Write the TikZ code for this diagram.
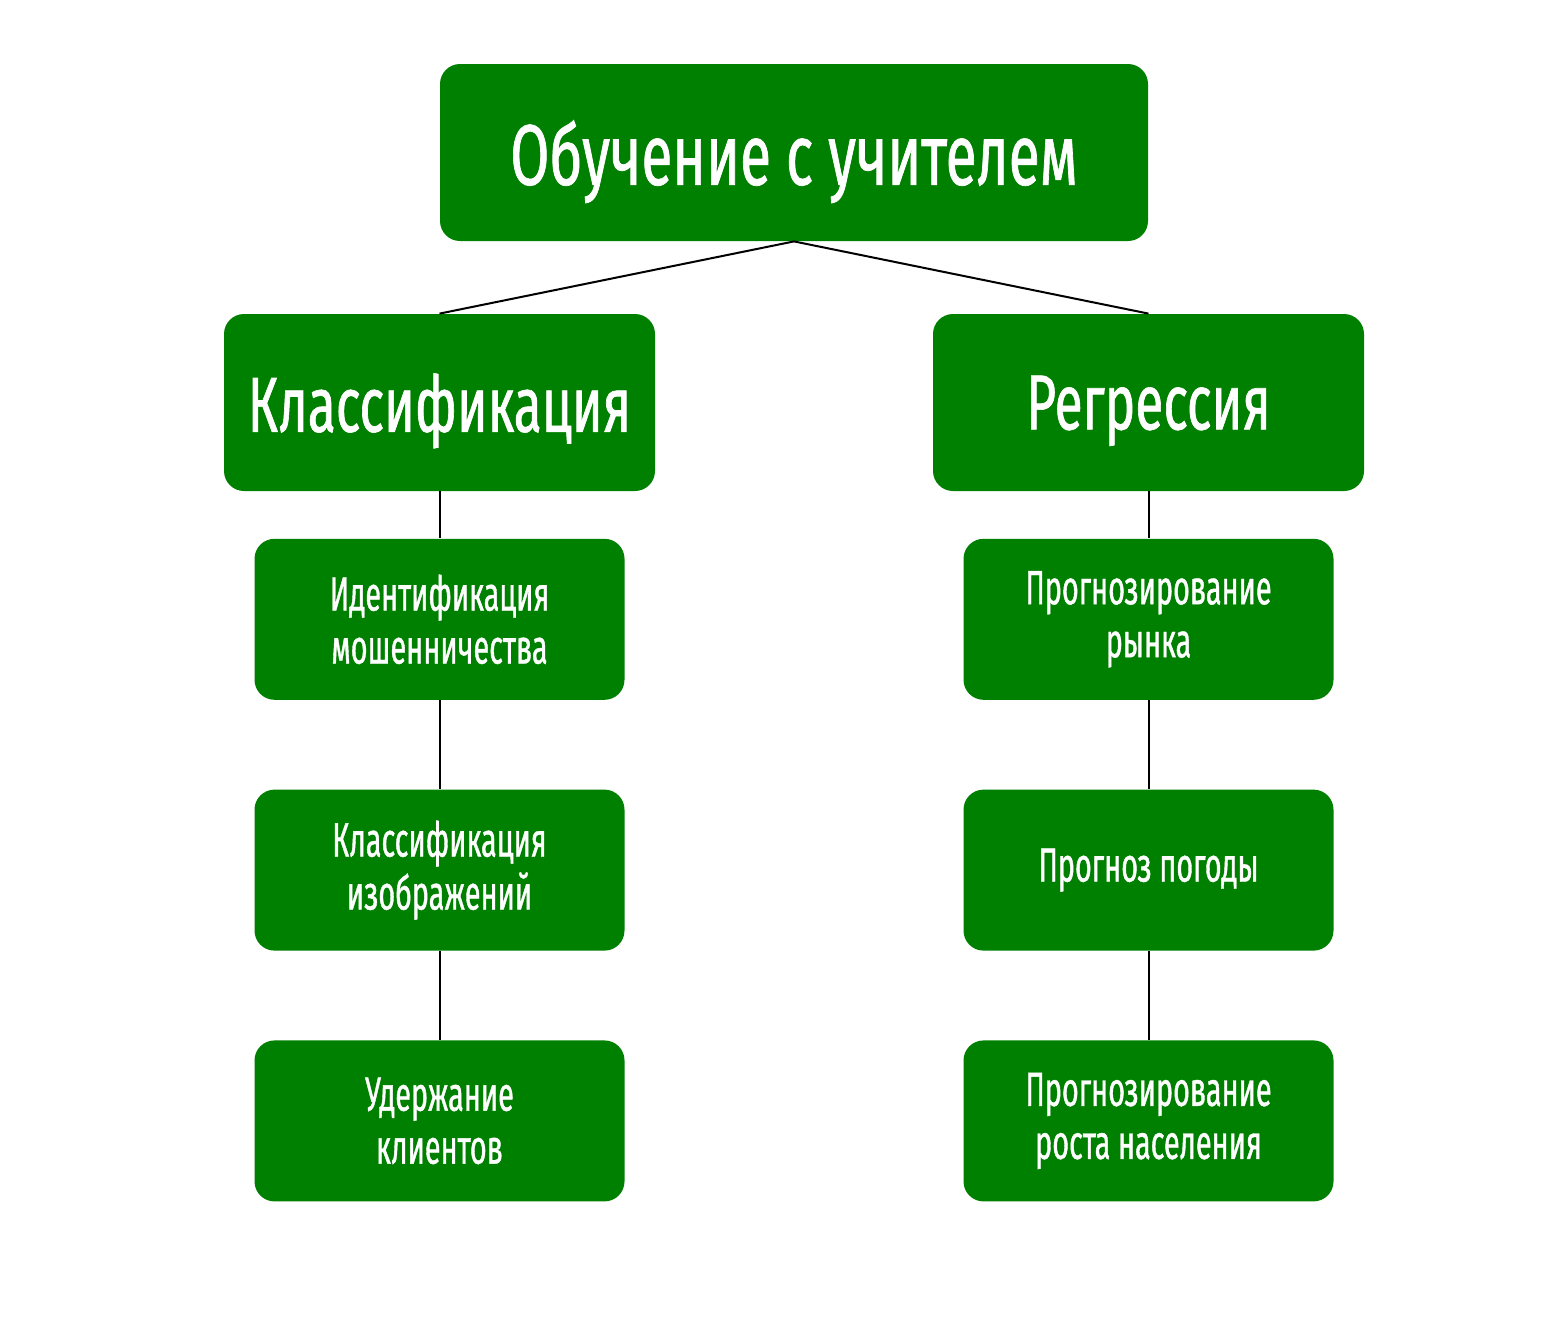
\documentclass[tikz,border=0pt]{standalone}
\usepackage{fontspec}
\setmainfont[FakeStretch=0.66, FakeBold=0.8]{Fira Sans}
\newfontfamily\leaffont[FakeStretch=0.6, FakeBold=0.8]{Fira Sans}
\usetikzlibrary{positioning}
\definecolor{leafgreen}{RGB}{0,128,0}
\tikzset{
  line/.style = {line width=1pt, draw=black},
  box/.style  = {fill=leafgreen, text=white, rounded corners=10pt, align=center, inner sep=0pt},
  topbox/.style  = {box, minimum width=354pt, minimum height=88.5pt, text depth=0pt, font=\fontsize{43}{48}\selectfont},
  midbox/.style  = {box, minimum width=215.5pt, minimum height=88.5pt, text depth=0pt, font=\fontsize{39}{44}\selectfont},
  leafbox/.style = {box, minimum width=185pt, minimum height=80.5pt, font=\leaffont\fontsize{24}{26.5}\selectfont},
}
\begin{document}
\begin{tikzpicture}[x=1pt, y=1pt, node distance=44.5pt]
  \useasboundingbox (0,0) rectangle (783,-662);
  \node[topbox] (sup) at (397,-76.25) {Обучение с учителем};
  \node[midbox] (cls) at (219.75,-201.25) {Классификация};
  \node[midbox] (reg) at (574.25,-201.25) {Регрессия};
  % left column
  \node[leafbox, below=23.5pt of cls] (fraud) {Идентификация\\мошенничества};
  \node[leafbox, below=of fraud] (img) {Классификация\\изображений};
  \node[leafbox, below=of img] (churn) {Удержание\\клиентов};
  % right column
  \node[leafbox, below=23.5pt of reg] (market) {Прогнозирование\\рынка};
  \node[leafbox, below=of market] (weather) {Прогноз погоды};
  \node[leafbox, below=of weather] (popul) {Прогнозирование\\роста населения};
  \draw[line] (sup.south) -- (cls.north);
  \draw[line] (sup.south) -- (reg.north);
  \draw[line] (cls.south) -- (fraud.north);
  \draw[line] (fraud.south) -- (img.north);
  \draw[line] (img.south) -- (churn.north);
  \draw[line] (reg.south) -- (market.north);
  \draw[line] (market.south) -- (weather.north);
  \draw[line] (weather.south) -- (popul.north);
\end{tikzpicture}
\end{document}
